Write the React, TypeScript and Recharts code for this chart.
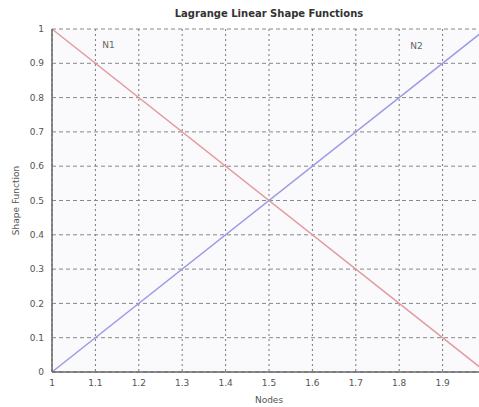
import { LineChart, Line, XAxis, YAxis, CartesianGrid, ReferenceDot, Label } from 'recharts';

const nodes = [1, 2];
const n1 = [1, 0];
const n2 = [0, 1];
const xTicks = [1, 1.1, 1.2, 1.3, 1.4, 1.5, 1.6, 1.7, 1.8, 1.9];
const yTicks = [0, 0.1, 0.2, 0.3, 0.4, 0.5, 0.6, 0.7, 0.8, 0.9, 1];
const labels = [
  { name: 'N1', x: 1.13, y: 0.955 },
  { name: 'N2', x: 1.84, y: 0.95 },
];

const data = nodes.map((x, i) => ({ x, n1: n1[i], n2: n2[i] }));
const tickStyle = { fontSize: 9, fill: '#555', fontFamily: 'DejaVu Sans' };

export default function App() {
  return (
    <div style={{ position: 'fixed', left: 0, top: 0, width: 479, height: 407, overflow: 'hidden', background: '#fff', fontFamily: 'DejaVu Sans' }}>
      <div style={{ position: 'absolute', top: 8, left: 52, width: 434, textAlign: 'center', fontSize: 10, fontWeight: 600, color: '#333' }}>
        Lagrange Linear Shape Functions
      </div>
      <LineChart width={500} height={407} data={data} margin={{ top: 29, right: 14, left: 0, bottom: 0 }}>
        <CartesianGrid horizontal={false} vertical strokeDasharray="2 3" stroke="#777" fill="#fafafc" />
        <CartesianGrid horizontal vertical={false} strokeDasharray="4 3" stroke="#888" />
        <XAxis
          dataKey="x"
          type="number"
          domain={[1, 2]}
          ticks={xTicks}
          tickFormatter={(v) => String(v)}
          tick={tickStyle}
          tickLine={false}
          axisLine={{ stroke: '#666', strokeWidth: 1.5 }}
          height={35}
          interval={0}
        >
          <Label value="Nodes" position="insideBottom" offset={4} style={{ fontSize: 9, fill: '#555', fontFamily: 'DejaVu Sans' }} />
        </XAxis>
        <YAxis
          type="number"
          domain={[0, 1]}
          ticks={yTicks}
          tickFormatter={(v) => String(v)}
          tick={tickStyle}
          tickLine={false}
          axisLine={{ stroke: '#666', strokeWidth: 1.5 }}
          width={52}
          interval={0}
        >
          <Label value="Shape Function" angle={-90} position="insideLeft" offset={16} style={{ fontSize: 9, fill: '#555', fontFamily: 'DejaVu Sans', textAnchor: 'middle' }} />
        </YAxis>
        <Line type="linear" dataKey="n1" stroke="#e39a9e" strokeWidth={1.5} dot={false} isAnimationActive={false} />
        <Line type="linear" dataKey="n2" stroke="#9a9ae6" strokeWidth={1.5} dot={false} isAnimationActive={false} />
        {labels.map((l) => (
          <ReferenceDot key={l.name} x={l.x} y={l.y} r={0} stroke="none" fill="none"
            label={{ value: l.name, position: 'center', fontSize: 9, fill: '#666', fontFamily: 'DejaVu Sans' }} />
        ))}
      </LineChart>
    </div>
  );
}
